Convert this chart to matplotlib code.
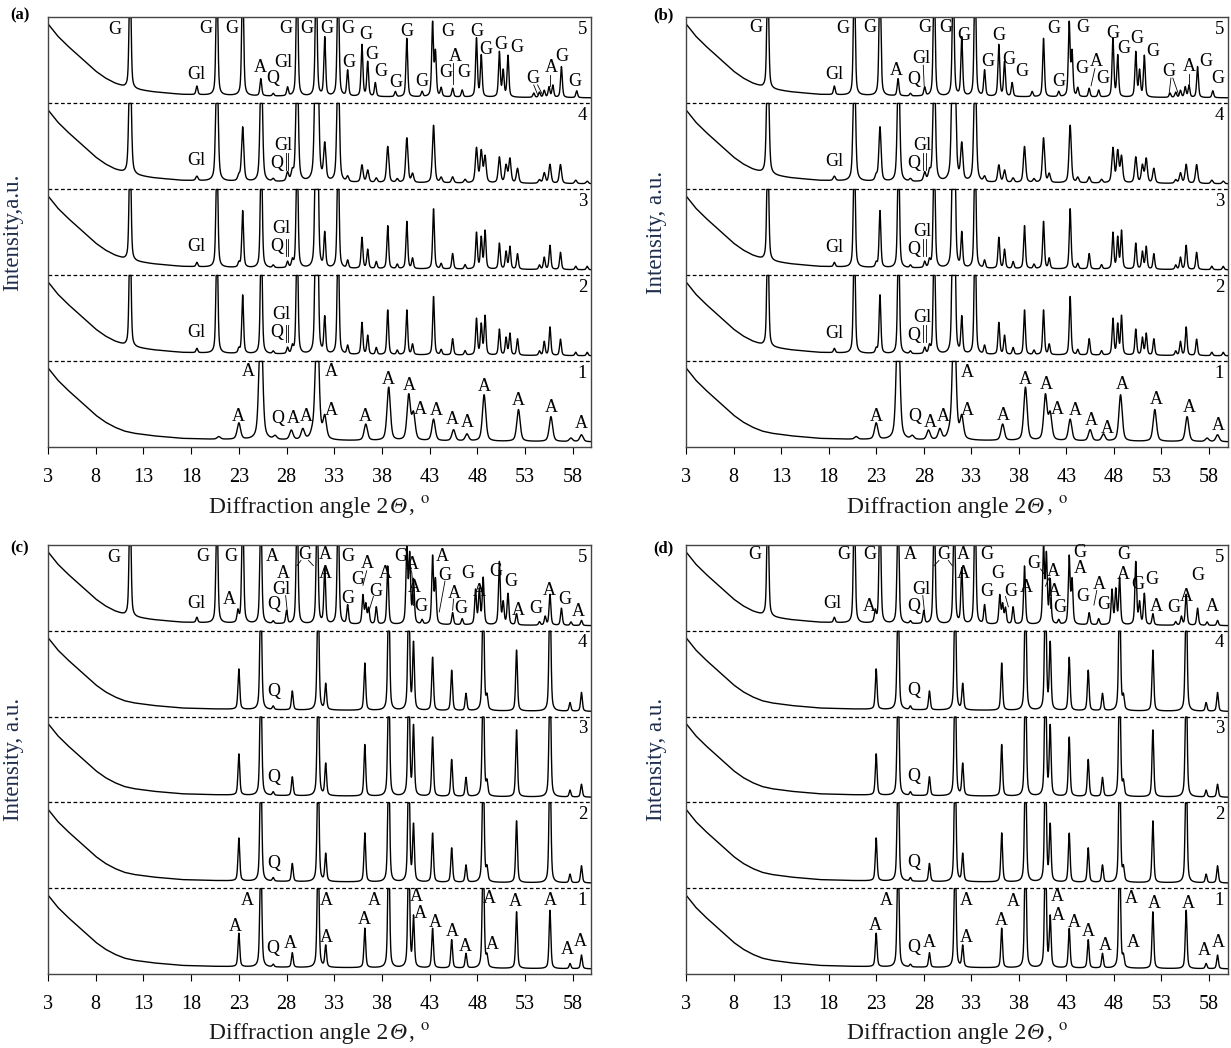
import numpy as np
import matplotlib.pyplot as plt
from matplotlib.offsetbox import TextArea, HPacker, AnchoredOffsetbox

plt.rcParams['font.family'] = ['Liberation Serif', 'DejaVu Serif']
plt.rcParams['mathtext.fontset'] = 'stix'

X_TICKS = [3, 8, 13, 18, 23, 28, 33, 38, 43, 48, 53, 58]

# amorphous background, as fraction of one band height
BG_2THETA = [3, 4, 5, 6, 7, 8, 9, 10, 11, 12, 14, 17, 20, 25, 30, 40, 50, 60]
BG_LEVEL = [0.92, 0.78, 0.67, 0.57, 0.47, 0.37, 0.29, 0.23, 0.185, 0.16, 0.13,
            0.10, 0.09, 0.08, 0.075, 0.07, 0.065, 0.06]

# peak lists (2theta, height in band units, 1.6 = off scale)
GYP_POS = [11.6, 18.6, 20.7, 23.0, 23.4, 25.35, 26.6, 28.1, 28.6, 29.1, 31.05, 31.25,
           32.0, 33.4, 34.4, 35.9, 36.5, 37.4, 38.6, 39.6, 40.6, 41.2, 43.4, 44.2,
           45.4, 46.7, 47.9, 48.4, 48.8, 50.3, 51.0, 51.4, 52.2, 54.5, 55.0, 55.6,
           56.7, 58.3, 59.5]
GYP_H2 = [1.6, 0.05, 1.6, 0.05, 0.68, 1.6, 0.03, 0.07, 0.08, 1.6, 1.6, 1.6,
          0.42, 1.6, 0.10, 0.37, 0.22, 0.08, 0.52, 0.05, 0.52, 0.12, 0.68, 0.06,
          0.19, 0.05, 0.42, 0.35, 0.45, 0.30, 0.20, 0.25, 0.19, 0.05, 0.16, 0.33,
          0.19, 0.04, 0.04]
GYP_H3 = [1.6, 0.05, 1.6, 0.05, 0.66, 1.6, 0.03, 0.07, 0.08, 1.6, 1.6, 1.6,
          0.40, 1.6, 0.09, 0.36, 0.22, 0.08, 0.50, 0.05, 0.55, 0.12, 0.70, 0.06,
          0.18, 0.05, 0.42, 0.36, 0.44, 0.30, 0.20, 0.26, 0.18, 0.05, 0.14, 0.28,
          0.20, 0.04, 0.04]
GYP_H4 = [1.6, 0.05, 1.6, 0.06, 0.63, 1.6, 0.03, 0.10, 0.10, 1.6, 1.6, 1.6,
          0.42, 1.6, 0.06, 0.20, 0.14, 0.05, 0.42, 0.04, 0.52, 0.10, 0.67, 0.06,
          0.07, 0.04, 0.40, 0.36, 0.30, 0.30, 0.20, 0.28, 0.17, 0.04, 0.12, 0.22,
          0.22, 0.04, 0.03]
GYP5_POS = [11.6, 18.6, 20.7, 23.4, 25.3, 26.6, 28.1, 29.1, 31.1, 32.0, 33.4, 34.4,
            35.9, 36.5, 37.3, 39.4, 40.6, 42.2, 43.3, 43.6, 44.2, 45.4, 46.4, 47.9,
            48.4, 50.3, 50.7, 51.2, 53.9, 54.5, 55.0, 55.5, 55.9, 56.8, 58.4]
GYP5_H = [1.6, 0.10, 1.6, 1.6, 0.20, 0.03, 0.10, 1.6, 1.6, 0.68, 1.6, 0.30,
          0.60, 0.40, 0.16, 0.06, 0.68, 0.06, 0.85, 0.50, 0.10, 0.10, 0.08, 0.68,
          0.48, 0.52, 0.30, 0.48, 0.05, 0.06, 0.08, 0.12, 0.14, 0.36, 0.08]
ANA_BROAD_POS = [20.9, 23.0, 25.3, 26.8, 28.5, 29.7, 30.7, 31.2, 32.0, 36.3, 38.7,
                 40.8, 41.3, 43.4, 45.5, 46.9, 48.7, 52.3, 55.7, 57.8, 58.9]
ANA_BROAD_H = [0.03, 0.19, 1.6, 0.04, 0.11, 0.12, 0.05, 1.6, 0.25, 0.19, 0.62,
               0.52, 0.30, 0.25, 0.13, 0.08, 0.54, 0.37, 0.29, 0.04, 0.08]

ANA_POS = [23.0, 25.3, 26.6, 28.6, 31.3, 32.1, 36.2, 38.7, 40.8, 41.3, 43.3,
           45.3, 46.8, 48.6, 49.0, 52.1, 55.6, 57.7, 58.9]
ANA_H1 = [0.39, 1.6, 0.03, 0.17, 1.6, 0.25, 0.46, 1.6, 1.6, 0.58, 0.46,
          0.33, 0.17, 1.6, 0.12, 0.66, 0.68, 0.06, 0.16]
ANA_H2 = [0.50, 1.6, 0.04, 0.21, 1.6, 0.32, 0.57, 1.6, 1.6, 0.65, 0.57,
          0.40, 0.20, 1.6, 0.15, 0.72, 1.6, 0.10, 0.20]
ANA_H3 = [0.48, 1.6, 0.04, 0.22, 1.6, 0.37, 0.60, 1.6, 1.6, 0.80, 0.69,
          0.43, 0.22, 1.6, 0.15, 0.78, 1.6, 0.08, 0.15]
ANA_H4 = [0.47, 1.6, 0.04, 0.22, 1.6, 0.30, 0.55, 1.6, 1.6, 0.77, 0.62,
          0.47, 0.20, 1.6, 0.15, 0.71, 1.6, 0.10, 0.22]
MIX5_POS = [11.6, 18.6, 20.7, 22.9, 23.4, 25.3, 26.6, 28.0, 29.1, 31.2, 32.0, 33.4,
            34.4, 36.0, 36.3, 36.6, 37.4, 38.6, 40.6, 40.9, 41.3, 42.2, 43.3, 43.6,
            45.4, 46.4, 47.8, 48.2, 48.6, 50.3, 50.7, 51.2, 52.1, 54.5, 55.1, 55.6,
            56.8, 57.8, 58.9]
MIX5_H = [1.6, 0.06, 1.6, 0.13, 1.6, 1.6, 0.03, 0.15, 1.6, 1.6, 0.64, 1.6,
          0.22, 0.33, 0.22, 0.18, 0.20, 0.68, 0.90, 0.78, 0.50, 0.05, 0.78, 0.50,
          0.14, 0.07, 0.40, 0.40, 0.54, 0.73, 0.25, 0.36, 0.13, 0.04, 0.10, 0.36,
          0.20, 0.04, 0.06]

# phase labels: (text, 2theta, height within band)
LBL_A1 = [("A", 24.0, 0.875), ("A", 32.7, 0.875), ("A", 22.9, 0.36), ("Q", 27.1, 0.33),
          ("A", 28.7, 0.33), ("A", 30.1, 0.36), ("A", 32.7, 0.42), ("A", 36.3, 0.36),
          ("A", 38.7, 0.79), ("A", 40.9, 0.72), ("A", 42.0, 0.44), ("A", 43.7, 0.42),
          ("A", 45.4, 0.32), ("A", 46.9, 0.28), ("A", 48.7, 0.70), ("A", 52.3, 0.54),
          ("A", 55.7, 0.455), ("A", 58.9, 0.27)]
LBL_A23 = [("Gl", 18.5, 0.33), ("Gl", 27.5, 0.54), ("Q", 27.0, 0.33)]
LBL_A4 = [("Gl", 18.5, 0.33), ("Gl", 27.7, 0.50), ("Q", 27.0, 0.30)]
LBL_A5 = [("G", 10.0, 0.85), ("Gl", 18.5, 0.33), ("G", 19.5, 0.87), ("G", 22.3, 0.87),
          ("A", 25.2, 0.41), ("Q", 26.6, 0.29), ("Gl", 27.7, 0.47), ("G", 27.9, 0.87),
          ("G", 30.1, 0.87), ("G", 32.2, 0.87), ("G", 34.4, 0.87), ("G", 36.3, 0.80),
          ("G", 36.9, 0.56), ("G", 34.5, 0.47), ("G", 37.9, 0.37), ("G", 39.4, 0.24),
          ("G", 40.6, 0.83), ("G", 42.2, 0.25), ("G", 44.9, 0.83), ("A", 45.7, 0.54),
          ("G", 44.7, 0.35), ("G", 46.6, 0.35), ("G", 47.9, 0.83), ("G", 48.9, 0.62),
          ("G", 50.4, 0.68), ("G", 52.1, 0.64), ("G", 53.8, 0.29), ("A", 55.7, 0.41),
          ("G", 56.8, 0.54), ("G", 58.2, 0.25)]

LBL_B1 = [("A", 32.6, 0.87), ("A", 23.0, 0.36), ("Q", 27.1, 0.35), ("A", 28.7, 0.28),
          ("A", 30.1, 0.35), ("A", 32.6, 0.42), ("A", 36.4, 0.37), ("A", 38.7, 0.79),
          ("A", 40.9, 0.73), ("A", 42.1, 0.44), ("A", 43.9, 0.42), ("A", 45.6, 0.31),
          ("A", 47.3, 0.22), ("A", 48.9, 0.73), ("A", 52.5, 0.55), ("A", 55.9, 0.46),
          ("A", 59.0, 0.25)]
LBL_B234 = [("Gl", 18.6, 0.32), ("Gl", 27.9, 0.50), ("Q", 27.0, 0.30)]
LBL_B5 = [("G", 10.3, 0.88), ("Gl", 18.6, 0.33), ("G", 19.5, 0.87), ("G", 22.3, 0.88),
          ("A", 25.1, 0.38), ("Q", 26.9, 0.27), ("Gl", 27.7, 0.52), ("G", 28.1, 0.88),
          ("G", 30.3, 0.88), ("G", 32.2, 0.79), ("G", 34.7, 0.48), ("G", 35.9, 0.79),
          ("G", 37.0, 0.50), ("G", 38.3, 0.37), ("G", 41.7, 0.87), ("G", 42.2, 0.25),
          ("G", 44.7, 0.88), ("G", 44.6, 0.40), ("A", 46.2, 0.48), ("G", 46.8, 0.29),
          ("G", 47.9, 0.81), ("G", 49.0, 0.63), ("G", 50.4, 0.75), ("G", 52.1, 0.60),
          ("G", 53.8, 0.37), ("A", 55.9, 0.42), ("G", 57.7, 0.48), ("G", 58.9, 0.29)]

LBL_C1 = [("A", 23.9, 0.86), ("A", 22.6, 0.55), ("Q", 26.6, 0.30), ("A", 28.4, 0.36),
          ("A", 32.2, 0.86), ("A", 32.2, 0.43), ("A", 36.1, 0.63), ("A", 37.2, 0.86),
          ("A", 41.6, 0.90), ("A", 42.0, 0.70), ("A", 43.6, 0.60), ("A", 45.4, 0.50),
          ("A", 46.7, 0.32), ("A", 49.2, 0.88), ("A", 49.6, 0.34), ("A", 52.0, 0.84),
          ("A", 55.6, 0.86), ("A", 57.4, 0.28), ("A", 58.8, 0.38)]
LBL_C234 = [("Q", 26.7, 0.29)]
LBL_C5 = [("G", 9.9, 0.85), ("Gl", 18.5, 0.32), ("G", 19.2, 0.87), ("G", 22.2, 0.87),
          ("A", 22.0, 0.36), ("A", 26.5, 0.87), ("A", 27.7, 0.67), ("Gl", 27.5, 0.48),
          ("Q", 26.7, 0.31), ("G", 29.9, 0.89), ("A", 32.1, 0.89), ("A", 32.1, 0.67),
          ("G", 34.4, 0.87), ("G", 34.4, 0.38), ("A", 36.5, 0.79), ("G", 35.5, 0.60),
          ("G", 37.4, 0.46), ("A", 38.4, 0.67), ("G", 40.0, 0.87), ("A", 41.2, 0.77),
          ("A", 41.4, 0.50), ("G", 42.1, 0.28), ("A", 44.3, 0.87), ("G", 44.6, 0.65),
          ("A", 45.6, 0.44), ("G", 46.3, 0.26), ("G", 47.0, 0.67), ("A", 48.2, 0.46),
          ("G", 49.9, 0.69), ("G", 51.5, 0.58), ("A", 52.3, 0.24), ("G", 54.1, 0.26),
          ("A", 55.5, 0.47), ("G", 57.2, 0.36), ("A", 58.6, 0.22)]

LBL_D1 = [("A", 24.1, 0.86), ("A", 22.9, 0.57), ("Q", 26.9, 0.31), ("A", 28.6, 0.37),
          ("A", 32.5, 0.86), ("A", 32.5, 0.42), ("A", 36.2, 0.62), ("A", 37.4, 0.85),
          ("A", 42.1, 0.90), ("A", 42.2, 0.68), ("A", 43.8, 0.60), ("A", 45.3, 0.50),
          ("A", 47.1, 0.33), ("A", 49.8, 0.88), ("A", 50.0, 0.37), ("A", 52.3, 0.82),
          ("A", 55.8, 0.82), ("A", 57.5, 0.27), ("A", 59.0, 0.37)]
LBL_D234 = [("Q", 26.9, 0.30)]
LBL_D5 = [("G", 10.2, 0.89), ("Gl", 18.4, 0.32), ("G", 19.6, 0.89), ("G", 22.3, 0.89),
          ("A", 22.3, 0.28), ("A", 26.6, 0.89), ("Gl", 27.7, 0.48), ("Q", 26.9, 0.28),
          ("G", 30.1, 0.89), ("A", 32.2, 0.89), ("A", 32.2, 0.67), ("G", 34.6, 0.89),
          ("G", 35.8, 0.67), ("G", 34.6, 0.46), ("G", 37.2, 0.46), ("A", 38.8, 0.50),
          ("G", 39.6, 0.78), ("A", 41.6, 0.69), ("A", 41.7, 0.46), ("G", 42.3, 0.27),
          ("G", 44.4, 0.91), ("A", 44.5, 0.73), ("G", 44.7, 0.40), ("A", 46.5, 0.54),
          ("G", 46.9, 0.31), ("G", 49.0, 0.89), ("A", 49.0, 0.66), ("G", 50.5, 0.54),
          ("G", 52.0, 0.60), ("A", 52.5, 0.28), ("G", 54.3, 0.27), ("A", 55.6, 0.40),
          ("G", 56.8, 0.64), ("A", 58.4, 0.28)]

# short leader lines: (x0, y0, x1, y1) in 2theta / band height
LEAD_GL = [(27.95, 0.22, 27.95, 0.42), (28.2, 0.22, 28.2, 0.42)]
LEAD_A5 = [(45.45, 0.46, 45.45, 0.22), (53.9, 0.21, 54.3, 0.10), (54.3, 0.21, 54.8, 0.10),
           (55.6, 0.33, 55.6, 0.20)]
LEAD_B5 = [(27.95, 0.44, 28.05, 0.20), (46.0, 0.40, 45.6, 0.20), (54.0, 0.29, 53.8, 0.10),
           (54.2, 0.29, 54.8, 0.10), (55.9, 0.34, 55.9, 0.20)]
LEAD_C5 = [(29.5, 0.82, 29.1, 0.76), (30.3, 0.82, 30.8, 0.76), (27.9, 0.41, 28.1, 0.20),
           (36.0, 0.53, 36.4, 0.70), (37.1, 0.40, 36.6, 0.22), (40.7, 0.82, 41.1, 0.72),
           (41.1, 0.70, 41.2, 0.58), (41.3, 0.43, 41.3, 0.30), (44.6, 0.58, 44.0, 0.22),
           (45.5, 0.37, 45.4, 0.24)]
LEAD_D5 = [(29.6, 0.82, 29.1, 0.76), (30.6, 0.82, 31.0, 0.76), (27.9, 0.41, 28.1, 0.20),
           (36.6, 0.40, 36.9, 0.28), (40.3, 0.72, 40.8, 0.64), (41.2, 0.62, 40.8, 0.52),
           (41.3, 0.39, 41.3, 0.26), (46.2, 0.47, 45.9, 0.30)]

YLABEL_COLOR = '#1f2d4d'


def profile(x, pos, hgt, wid):
    y = np.interp(x, BG_2THETA, BG_LEVEL)
    hw = wid / 2.0
    for p, h in zip(pos, hgt):
        d = ((x - p) / hw) ** 2
        y = y + h * (0.5 / (1 + d) + 0.5 * np.exp(-np.log(2) * d))
    return np.minimum(y, 0.995)


def add_xlabel(ax, y_off):
    # "Diffraction angle 2Θ, º" with italic theta
    base = dict(fontsize=17, color='#1a1a1a')
    parts = [TextArea("Diffraction angle 2", textprops=base),
             TextArea("\u0398", textprops=dict(base, style='italic')),
             TextArea(r", $^{\mathrm{o}}$", textprops=base)]
    box = HPacker(children=parts, align='baseline', pad=0, sep=1)
    anchored = AnchoredOffsetbox(loc='center', child=box, pad=0, borderpad=0,
                                 frameon=False, bbox_to_anchor=(0.5, y_off),
                                 bbox_transform=ax.transAxes)
    ax.add_artist(anchored)


def draw_panel(ax, traces, labels, leaders, ylab, x_max):
    x = np.linspace(3, x_max, 6000)
    for i, (pos, hgt, wid) in enumerate(traces):
        ax.plot(x, i + profile(x, pos, hgt, wid), color='black', lw=1.0)
        ax.text(x_max - 0.4, i + 0.86, str(i + 1), ha='right', va='center', fontsize=13.5)
        for txt, lx, ly in labels[i]:
            ax.text(lx, i + ly, txt, ha='center', va='center', fontsize=13)
        for x0, y0, x1, y1 in leaders[i]:
            ax.plot([x0, x1], [i + y0, i + y1], color='black', lw=0.6)
    for k in range(1, len(traces)):
        ax.axhline(k, color='black', lw=0.9, ls=(0, (3, 2)))
    ax.set_xlim(3, x_max)
    ax.set_ylim(0, len(traces))
    ax.set_yticks([])
    ax.set_xticks(X_TICKS)
    ax.tick_params(axis='x', direction='out', length=5, labelsize=14.5, pad=10)
    ax.set_ylabel(ylab, fontsize=16.5, color=YLABEL_COLOR)
    for s in ax.spines.values():
        s.set_linewidth(1.0)
        s.set_color('#444444')


fig = plt.figure(figsize=(12.31, 10.48), dpi=100)
W, H = 1231.0, 1048.0

ax_a = fig.add_axes([48 / W, 1 - 447 / H, 543 / W, 430 / H])
ax_b = fig.add_axes([686 / W, 1 - 447 / H, 542 / W, 430 / H])
ax_c = fig.add_axes([48 / W, 1 - 974 / H, 543 / W, 429 / H])
ax_d = fig.add_axes([686 / W, 1 - 974 / H, 542 / W, 429 / H])

gyp_traces = [(ANA_BROAD_POS, ANA_BROAD_H, 0.42), (GYP_POS, GYP_H2, 0.22),
              (GYP_POS, GYP_H3, 0.22), (GYP_POS, GYP_H4, 0.28), (GYP5_POS, GYP5_H, 0.22)]
ana_traces = [(ANA_POS, ANA_H1, 0.22), (ANA_POS, ANA_H2, 0.22), (ANA_POS, ANA_H3, 0.22),
              (ANA_POS, ANA_H4, 0.22), (MIX5_POS, MIX5_H, 0.22)]

draw_panel(ax_a, gyp_traces, [LBL_A1, LBL_A23, LBL_A23, LBL_A4, LBL_A5],
           [[], LEAD_GL, LEAD_GL, LEAD_GL, LEAD_A5], 'Intensity,a.u.', 59.9)
draw_panel(ax_b, gyp_traces, [LBL_B1, LBL_B234, LBL_B234, LBL_B234, LBL_B5],
           [[], LEAD_GL, LEAD_GL, LEAD_GL, LEAD_B5], 'Intensity, a.u.', 60.0)
draw_panel(ax_c, ana_traces, [LBL_C1, LBL_C234, LBL_C234, LBL_C234, LBL_C5],
           [[], [], [], [], LEAD_C5], 'Intensity, a.u.', 59.9)
draw_panel(ax_d, ana_traces, [LBL_D1, LBL_D234, LBL_D234, LBL_D234, LBL_D5],
           [[], [], [], [], LEAD_D5], 'Intensity, a.u.', 60.0)

for ax in (ax_a, ax_b, ax_c, ax_d):
    add_xlabel(ax, -0.138)

ax_a.yaxis.set_label_coords(-0.045, 0.5)
ax_c.yaxis.set_label_coords(-0.045, 0.5)
ax_b.yaxis.set_label_coords(-0.035, 0.5)
ax_d.yaxis.set_label_coords(-0.035, 0.5)

for letter, px, py in [('(a)', 20, 15), ('(b)', 663, 15), ('(c)', 20, 548), ('(d)', 663, 548)]:
    fig.text(px / W, 1 - py / H, letter, ha='center', va='center',
             fontsize=12, fontweight='bold')

fig.savefig('out.png', dpi=100)
